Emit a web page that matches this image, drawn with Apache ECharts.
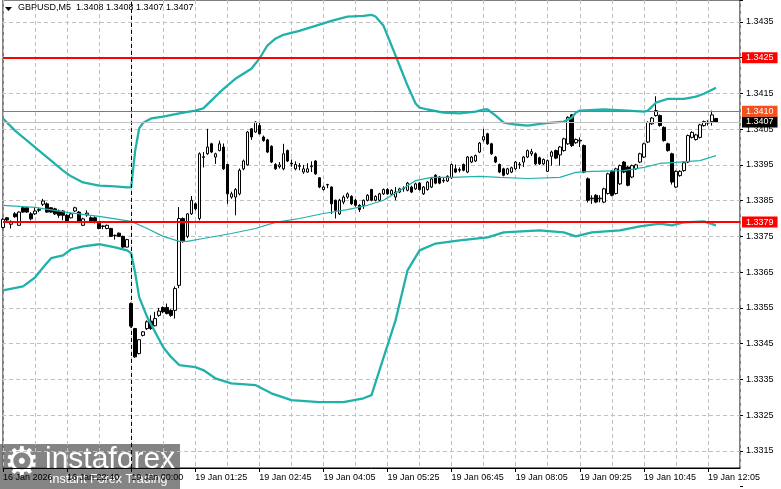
<!DOCTYPE html>
<html><head><meta charset="utf-8">
<script src="https://cdn.jsdelivr.net/npm/echarts@6/dist/echarts.min.js"></script>
<style>html,body{margin:0;padding:0;background:#fff}#c{width:781px;height:489px}</style>
</head><body><div id="c"></div>
<script>
// ---------- data ----------
const symbolTitle = 'GBPUSD,M5';
const lastQuote = ['1.3408', '1.3408', '1.3407', '1.3407'];

const opens = [
1.33775,1.33802,1.33784,1.33813,1.33781,1.33830,1.33830,1.33813,1.33813,1.33823,
1.33840,1.33841,1.33830,1.33827,1.33821,1.33821,1.33809,1.33802,1.33821,1.33818,
1.33781,1.33810,1.33802,1.33802,1.33790,1.33778,1.33772,1.33772,1.33752,1.33759,
1.33750,1.33720,1.33562,1.33492,1.33422,1.33473,1.33492,1.33513,1.33500,1.33529,
1.33551,1.33551,1.33543,1.33543,1.33613,1.33800,1.33750,1.33813,1.33841,1.33800,
1.33971,1.33981,1.34009,1.33972,1.33990,1.34000,1.33951,1.33860,1.33860,1.33869,
1.33939,1.33950,1.34051,1.34042,1.34060,1.34028,1.34020,1.34002,1.33951,1.33945,
1.33939,1.33990,1.33955,1.33939,1.33946,1.33930,1.33930,1.33945,1.33961,1.33914,
1.33881,1.33894,1.33888,1.33851,1.33813,1.33846,1.33860,1.33862,1.33851,1.33837,
1.33837,1.33851,1.33881,1.33851,1.33851,1.33869,1.33881,1.33868,1.33860,1.33874,
1.33883,1.33879,1.33888,1.33883,1.33899,1.33869,1.33881,1.33888,1.33921,1.33916,
1.33905,1.33905,1.33914,1.33939,1.33935,1.33951,1.33930,1.33958,1.33961,1.33986,
1.34020,1.34037,1.34009,1.33972,1.33951,1.33939,1.33925,1.33930,1.33939,1.33950,
1.33958,1.33972,1.33981,1.33981,1.33970,1.33953,1.33932,1.33974,1.33990,1.33978,
1.33990,1.34009,1.34090,1.34012,1.34017,1.34004,1.33911,1.33855,1.33865,1.33855,
1.33846,1.33870,1.33932,1.33870,1.33897,1.33958,1.33944,1.33916,1.33939,1.33958,
1.33972,1.34014,1.34065,1.34088,1.34088,1.34055,1.34009,1.33981,1.33888,1.33920,
1.33934,1.33958,1.34027,1.34021,1.34027,1.34060,1.34067,1.34071,1.34080];
const highs = [
1.33802,1.33804,1.33795,1.33818,1.33820,1.33832,1.33832,1.33818,1.33830,1.33830,
1.33855,1.33845,1.33832,1.33830,1.33825,1.33823,1.33813,1.33816,1.33833,1.33821,
1.33802,1.33823,1.33806,1.33806,1.33793,1.33781,1.33783,1.33774,1.33755,1.33761,
1.33752,1.33743,1.33565,1.33494,1.33463,1.33485,1.33515,1.33529,1.33539,1.33550,
1.33554,1.33562,1.33546,1.33610,1.33832,1.33803,1.33815,1.33863,1.33845,1.33985,
1.33986,1.34051,1.34012,1.33984,1.34018,1.34010,1.33953,1.33875,1.33885,1.33940,
1.33965,1.34045,1.34053,1.34072,1.34070,1.34032,1.34023,1.34005,1.33955,1.33958,
1.34009,1.33993,1.33965,1.33960,1.33955,1.33950,1.33955,1.33960,1.33963,1.33916,
1.33892,1.33897,1.33890,1.33853,1.33855,1.33865,1.33873,1.33865,1.33855,1.33840,
1.33853,1.33868,1.33883,1.33865,1.33872,1.33884,1.33885,1.33882,1.33888,1.33886,
1.33890,1.33902,1.33892,1.33900,1.33902,1.33891,1.33905,1.33914,1.33924,1.33919,
1.33914,1.33921,1.33954,1.33951,1.33943,1.33954,1.33975,1.33975,1.33979,1.34014,
1.34051,1.34040,1.34012,1.33975,1.33954,1.33942,1.33942,1.33945,1.33961,1.33958,
1.33975,1.33993,1.33995,1.33985,1.33973,1.33968,1.33965,1.33990,1.33993,1.34003,
1.34026,1.34086,1.34092,1.34024,1.34027,1.34007,1.33915,1.33865,1.33868,1.33865,
1.33886,1.33928,1.33935,1.33942,1.33951,1.33961,1.33947,1.33951,1.33953,1.33984,
1.34012,1.34072,1.34084,1.34142,1.34091,1.34058,1.34012,1.33984,1.33935,1.33935,
1.33959,1.34035,1.34044,1.34037,1.34065,1.34074,1.34075,1.34102,1.34080];
const lows = [
1.33772,1.33793,1.33772,1.33802,1.33780,1.33816,1.33816,1.33795,1.33810,1.33818,
1.33835,1.33816,1.33816,1.33810,1.33802,1.33795,1.33790,1.33800,1.33818,1.33790,
1.33779,1.33805,1.33788,1.33786,1.33770,1.33770,1.33770,1.33749,1.33741,1.33748,
1.33718,1.33719,1.33495,1.33410,1.33420,1.33470,1.33488,1.33489,1.33498,1.33525,
1.33535,1.33532,1.33525,1.33520,1.33605,1.33733,1.33745,1.33810,1.33823,1.33795,
1.33943,1.33978,1.33983,1.33953,1.33988,1.33936,1.33841,1.33855,1.33809,1.33865,
1.33935,1.33948,1.34020,1.34040,1.34035,1.34015,1.33983,1.33955,1.33936,1.33940,
1.33935,1.33958,1.33945,1.33935,1.33935,1.33925,1.33928,1.33930,1.33922,1.33885,
1.33878,1.33885,1.33813,1.33800,1.33810,1.33840,1.33855,1.33838,1.33833,1.33818,
1.33827,1.33848,1.33848,1.33848,1.33848,1.33866,1.33866,1.33865,1.33851,1.33871,
1.33875,1.33876,1.33871,1.33880,1.33878,1.33866,1.33878,1.33885,1.33896,1.33896,
1.33900,1.33902,1.33911,1.33927,1.33929,1.33932,1.33927,1.33955,1.33958,1.33983,
1.34015,1.34006,1.33978,1.33955,1.33927,1.33918,1.33922,1.33927,1.33936,1.33939,
1.33944,1.33969,1.33975,1.33950,1.33950,1.33950,1.33930,1.33948,1.33966,1.33948,
1.33987,1.34006,1.34000,1.34009,1.34000,1.33927,1.33845,1.33841,1.33843,1.33845,
1.33843,1.33867,1.33862,1.33867,1.33894,1.33927,1.33890,1.33913,1.33936,1.33955,
1.33969,1.34011,1.34062,1.34085,1.34057,1.34015,1.33987,1.33895,1.33885,1.33917,
1.33931,1.33955,1.34024,1.34018,1.34024,1.34057,1.34060,1.34060,1.34070];
const closes = [
1.33798,1.33796,1.33790,1.33805,1.33818,1.33818,1.33818,1.33799,1.33821,1.33825,
1.33849,1.33818,1.33818,1.33813,1.33809,1.33809,1.33793,1.33813,1.33830,1.33793,
1.33799,1.33815,1.33790,1.33790,1.33772,1.33779,1.33781,1.33750,1.33753,1.33750,
1.33720,1.33741,1.33499,1.33413,1.33461,1.33483,1.33511,1.33492,1.33520,1.33541,
1.33539,1.33534,1.33529,1.33604,1.33800,1.33735,1.33813,1.33851,1.33827,1.33981,
1.33973,1.34000,1.33986,1.33981,1.34009,1.33939,1.33869,1.33869,1.33881,1.33935,
1.33961,1.34042,1.34028,1.34070,1.34037,1.34018,1.33986,1.33958,1.33939,1.33950,
1.33981,1.33961,1.33953,1.33951,1.33948,1.33939,1.33939,1.33947,1.33925,1.33888,
1.33888,1.33895,1.33841,1.33823,1.33851,1.33860,1.33869,1.33841,1.33837,1.33825,
1.33851,1.33865,1.33851,1.33862,1.33869,1.33881,1.33869,1.33879,1.33874,1.33883,
1.33885,1.33899,1.33874,1.33897,1.33881,1.33888,1.33902,1.33911,1.33899,1.33899,
1.33907,1.33918,1.33951,1.33930,1.33937,1.33935,1.33972,1.33972,1.33976,1.34011,
1.34029,1.34009,1.33981,1.33958,1.33930,1.33921,1.33939,1.33942,1.33958,1.33952,
1.33972,1.33990,1.33987,1.33953,1.33953,1.33965,1.33962,1.33986,1.33969,1.34000,
1.34023,1.34083,1.34004,1.34021,1.34019,1.33930,1.33851,1.33857,1.33846,1.33857,
1.33883,1.33925,1.33865,1.33939,1.33948,1.33930,1.33893,1.33948,1.33950,1.33981,
1.34009,1.34069,1.34081,1.34102,1.34060,1.34018,1.33990,1.33902,1.33932,1.33932,
1.33956,1.34032,1.34041,1.34034,1.34062,1.34071,1.34069,1.34090,1.34070];

// Bollinger bands, read at sample bars (bar index, price)
const upperIdx = [0,3,6,9,12,15,17,20,24,28,31,32,33,34,35,37,40,44,48,50,52,54,56,58,60,62,64,66,68,70,74,78,82,86,90,92,93,95,97,99,101,103,104,106,110,114,118,120,121,123,125,128,131,135,140,142,143,144,150,156,160,161,163,166,170,173,175,178];
const upperVal = [1.34080,1.34046,1.34018,1.33990,1.33962,1.33934,1.33918,1.33901,1.33892,1.33890,1.33887,1.33887,1.33990,1.34052,1.34068,1.34080,1.34085,1.34094,1.34102,1.34108,1.34130,1.34152,1.34172,1.34191,1.34205,1.34219,1.34247,1.34284,1.34303,1.34314,1.34325,1.34339,1.34353,1.34365,1.34367,1.34370,1.34365,1.34339,1.34284,1.34228,1.34172,1.34122,1.34110,1.34105,1.34096,1.34094,1.34099,1.34105,1.34105,1.34088,1.34068,1.34063,1.34060,1.34066,1.34071,1.34082,1.34096,1.34102,1.34105,1.34102,1.34099,1.34102,1.34124,1.34135,1.34135,1.34141,1.34149,1.34166];
const midIdx = [0,8,16,24,32,36,40,44,46,50,57,63,68,74,80,86,91,95,99,103,107,112,119,124,131,139,143,147,155,160,164,168,174,178];
const midVal = [1.33837,1.33831,1.33817,1.33806,1.33792,1.33772,1.33750,1.33736,1.33736,1.33744,1.33758,1.33772,1.33789,1.33800,1.33814,1.33825,1.33837,1.33851,1.33878,1.33906,1.33915,1.33915,1.33918,1.33915,1.33912,1.33915,1.33929,1.33932,1.33934,1.33943,1.33954,1.33957,1.33962,1.33976];
const lowerIdx = [0,5,8,10,12,15,17,20,24,28,31,32,33,34,36,38,40,42,44,48,50,53,57,63,67,72,79,85,90,92,94,98,101,104,108,114,121,125,134,140,143,147,154,159,164,167,170,175,178];
const lowerVal = [1.33599,1.33610,1.33635,1.33663,1.33689,1.33697,1.33714,1.33722,1.33728,1.33719,1.33711,1.33703,1.33647,1.33580,1.33524,1.33482,1.33440,1.33412,1.33390,1.33384,1.33376,1.33353,1.33339,1.33334,1.33311,1.33292,1.33286,1.33286,1.33297,1.33306,1.33376,1.33515,1.33655,1.33711,1.33730,1.33739,1.33747,1.33761,1.33767,1.33761,1.33750,1.33761,1.33767,1.33778,1.33786,1.33781,1.33789,1.33792,1.33781];

const xLabelIdx = [0,16,32,48,64,80,96,112,128,144,160,176];
const xLabelText = ['16 Jan 2026','16 Jan 22:40','19 Jan 00:00','19 Jan 01:25','19 Jan 02:45','19 Jan 04:05','19 Jan 05:25','19 Jan 06:45','19 Jan 08:05','19 Jan 09:25','19 Jan 10:45','19 Jan 12:05'];
const yTicks = [1.3315,1.3325,1.3335,1.3345,1.3355,1.3365,1.3375,1.3385,1.3395,1.3405,1.3415,1.3425,1.3435];
const redLevels = [1.3425, 1.3379];
const orangeLevel = 1.3410;
const bidLevel = 1.3407;
const separatorIdx = 32;

// ---------- layout ----------
const NCAT = 185;
const cats = Array.from({length: NCAT}, (_, i) => String(i));
const YMAX = 1.3441137, YMIN = 1.3310197;
const FONT = 'Liberation Sans, Arial, sans-serif';
const BAND = '#20b2aa';

const candleData = opens.map((o, i) => [o, closes[i], lows[i], highs[i]]);
const pairs = (idx, val) => idx.map((k, j) => [k, val[j]]);

const levelLine = (v, lineColor, width, boxColor) => ({
  yAxis: v,
  lineStyle: {color: lineColor, width: width, type: 'solid'},
  label: {show: true, position: 'end', formatter: v.toFixed(4), color: '#fff',
    backgroundColor: boxColor, padding: [1, 4, 0, 4], distance: 2, fontSize: 9,
    fontFamily: FONT, lineHeight: 10}
});

const chart = echarts.init(document.getElementById('c'), null, {renderer: 'canvas'});
chart.setOption({
  animation: false,
  backgroundColor: '#fff',
  grid: [
    {left: 2, width: 738, top: -1, height: 469, show: true, borderColor: '#000', borderWidth: 1, backgroundColor: 'transparent'},
    {left: 2, width: 738, top: -1, bottom: 2.4, show: false}
  ],
  xAxis: [
    {type: 'category', gridIndex: 0, data: cats, boundaryGap: false,
     axisLine: {show: true, lineStyle: {color: '#000', width: 1}},
     axisTick: {show: true, length: 4, interval: (i) => xLabelIdx.includes(i), lineStyle: {color: '#000'}},
     axisLabel: {show: true, interval: (i) => xLabelIdx.includes(i), align: 'left', margin: 5,
       color: '#000', fontSize: 9, fontFamily: FONT,
       formatter: (v, i) => { const k = xLabelIdx.indexOf(Number(v)); return k >= 0 ? xLabelText[k] : ''; }},
     splitLine: {show: true, interval: (i) => i % 8 === 0, lineStyle: {color: '#c0c0c0', type: [4, 3], width: 1}}
    },
    {type: 'category', gridIndex: 1, data: cats, boundaryGap: false, show: false}
  ],
  yAxis: [
    {type: 'value', gridIndex: 0, min: YMIN, max: YMAX, show: false, splitLine: {show: false}},
    {type: 'value', gridIndex: 1, position: 'right', min: 1.3305, max: YMAX, interval: 0.001,
     axisLine: {show: false},
     axisTick: {show: true, length: 3, lineStyle: {color: '#000'}},
     axisLabel: {show: true, margin: 6, color: '#000', fontSize: 9, fontFamily: FONT,
       formatter: (v) => yTicks.some(t => Math.abs(t - v) < 1e-7) ? v.toFixed(4) : ''},
     splitLine: {show: true, lineStyle: {type: [4, 3], width: 1,
       color: ['rgba(0,0,0,0)'].concat(yTicks.map(() => '#c0c0c0'), ['rgba(0,0,0,0)'])}}
    }
  ],
  series: [
    {type: 'line', xAxisIndex: 1, yAxisIndex: 1, data: [], silent: true},
    {type: 'candlestick', xAxisIndex: 0, yAxisIndex: 0, data: candleData, barWidth: 3,
     itemStyle: {color: '#fff', color0: '#000', borderColor: '#000', borderColor0: '#000', borderWidth: 1},
     silent: true,
     markLine: {silent: true, symbol: 'none', animation: false, precision: 5,
       data: [
         {xAxis: String(separatorIdx), lineStyle: {color: '#000', type: [4, 3], width: 1}, label: {show: false}},
         levelLine(bidLevel, '#c0c0c0', 1, '#000'),
         levelLine(orangeLevel, '#f4511e', 1, '#f4511e'),
         levelLine(redLevels[0], '#ff0000', 2, '#ff0000'),
         levelLine(redLevels[1], '#ff0000', 2, '#ff0000')
       ]}
    },
    {type: 'line', xAxisIndex: 0, yAxisIndex: 0, data: pairs(upperIdx, upperVal), symbol: 'none', silent: true,
     lineStyle: {color: BAND, width: 2.3}},
    {type: 'line', xAxisIndex: 0, yAxisIndex: 0, data: pairs(midIdx, midVal), symbol: 'none', silent: true,
     lineStyle: {color: BAND, width: 1.2}},
    {type: 'line', xAxisIndex: 0, yAxisIndex: 0, data: pairs(lowerIdx, lowerVal), symbol: 'none', silent: true,
     lineStyle: {color: BAND, width: 2.3}}
  ],
  graphic: [
    {type: 'polygon', shape: {points: [[5, 7], [12, 7], [8.5, 11]]}, style: {fill: '#000'}, z: 100},
    {type: 'text', left: 18, top: 3, z: 100,
     style: {text: symbolTitle + '  ' + lastQuote.join(' '), fill: '#000', font: '9px ' + FONT}},
    {type: 'group', left: 0, top: 444, z: 100, children: [
      {type: 'rect', shape: {x: 0, y: 0, width: 180, height: 45}, style: {fill: 'rgba(105,105,105,0.82)'}},
      {type: 'text', x: 4, y: 1, style: {text: '\u2699', fill: '#fff', font: '40px DejaVu Sans'}},
      {type: 'text', x: 45, y: 1, style: {text: 'instaforex', fill: '#fff', font: '30px ' + FONT}},
      {type: 'text', x: 49, y: 29, style: {text: 'Instant Forex Trading', fill: '#fff', font: '12.5px ' + FONT}}
    ]}
  ]
});
</script>
</body></html>
